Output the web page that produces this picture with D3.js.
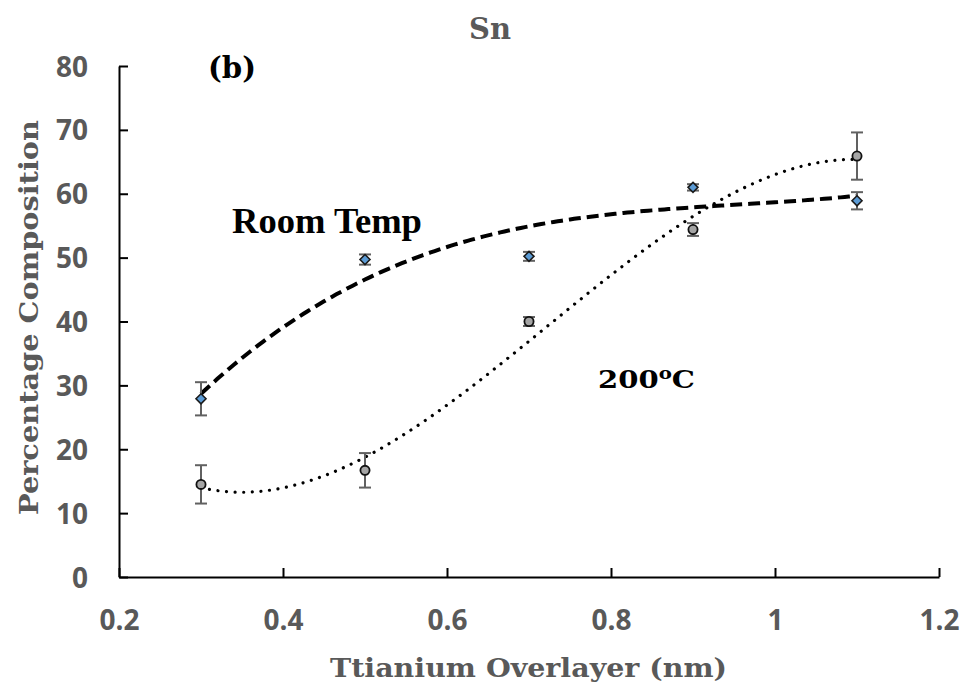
<!DOCTYPE html>
<html>
<head>
<meta charset="utf-8">
<script src="https://cdn.jsdelivr.net/npm/d3@7"></script>
<style>
  html, body { margin: 0; padding: 0; background: #fff; }
  svg { display: block; }
</style>
</head>
<body>
<svg id="chart" width="965" height="682"></svg>
<script>
// Titanium overlayer thickness (nm)
const thickness = [0.3, 0.5, 0.7, 0.9, 1.1];

// Sn percentage composition, room temperature deposition
const roomTemp = [27.9, 49.7, 50.2, 61.0, 58.9];
const roomTempErr = [2.6, 0.8, 0.7, 0.5, 1.35];

// Sn percentage composition, 200 °C deposition
const hot200 = [14.5, 16.7, 40.0, 54.4, 65.9];
const hot200Err = [3.0, 2.7, 0.7, 1.0, 3.7];

const xTicks = [0.2, 0.4, 0.6, 0.8, 1, 1.2];
const yTicks = [0, 10, 20, 30, 40, 50, 60, 70, 80];

const svg = d3.select("#chart");
const plotL = 119, plotR = 939, plotT = 66, plotB = 577;

const x = d3.scaleLinear().domain([0.2, 1.2]).range([plotL, plotR]);
const y = d3.scaleLinear().domain([0, 80]).range([plotB, plotT]);

const grey = "#595959";
const serif = "'DejaVu Serif', 'Liberation Serif', serif";
const sans = "'Open Sans', 'Noto Sans', 'Liberation Sans', sans-serif";

// Scale a text element's font size so its rendered width hits a target
function fitWidth(sel, target) {
  const node = sel.node();
  const fs = parseFloat(sel.attr("font-size"));
  const w = node.getComputedTextLength();
  if (w > 0) sel.attr("font-size", (fs * target / w).toFixed(2));
  return sel;
}

// Stretch/squeeze a text element horizontally to a given width
function fitLength(sel, target) {
  return sel.attr("textLength", target).attr("lengthAdjust", "spacingAndGlyphs");
}

// Least-squares polynomial trendline of given order
function polyFit(xs, ys, order) {
  const n = order + 1;
  const A = Array.from({length: n}, () => new Array(n + 1).fill(0));
  xs.forEach((xv, k) => {
    for (let i = 0; i < n; i++) {
      for (let j = 0; j < n; j++) A[i][j] += Math.pow(xv, i + j);
      A[i][n] += ys[k] * Math.pow(xv, i);
    }
  });
  for (let c = 0; c < n; c++) {
    let p = c;
    for (let r = c + 1; r < n; r++) if (Math.abs(A[r][c]) > Math.abs(A[p][c])) p = r;
    [A[c], A[p]] = [A[p], A[c]];
    for (let r = 0; r < n; r++) {
      if (r === c) continue;
      const f = A[r][c] / A[c][c];
      for (let k = c; k <= n; k++) A[r][k] -= f * A[c][k];
    }
  }
  const coef = A.map((row, i) => row[n] / row[i]);
  return xv => coef.reduce((s, c, i) => s + c * Math.pow(xv, i), 0);
}

// Axes (ticks point inward)
const xAxis = d3.axisBottom(x).tickValues(xTicks).tickSize(-9).tickSizeOuter(0)
  .tickFormat(d3.format("~g")).tickPadding(33);
const yAxis = d3.axisLeft(y).tickValues(yTicks).tickSize(-9).tickSizeOuter(0)
  .tickFormat(d3.format("d")).tickPadding(31);

const gx = svg.append("g").attr("transform", `translate(0,${plotB})`).call(xAxis);
const gy = svg.append("g").attr("transform", `translate(${plotL},0)`).call(yAxis);
[gx, gy].forEach(g => {
  g.select(".domain").attr("stroke", "#000").attr("stroke-width", 2);
  g.selectAll(".tick line").attr("stroke", "#000").attr("stroke-width", 2);
  g.selectAll(".tick text").attr("fill", grey).attr("font-family", sans)
    .attr("font-weight", "bold").attr("font-size", 28);
});
gx.selectAll(".tick text").attr("dy", "0.71em");
gy.selectAll(".tick text").attr("dy", "0.36em");

// Trendlines (3rd-order polynomial fits)
const fineX = d3.range(0.3, 1.1001, 0.005);
const line = d3.line().x(d => x(d[0])).y(d => y(d[1]));

const fitRT = polyFit(thickness, roomTemp, 3);
const fitHot = polyFit(thickness, hot200, 3);

svg.append("path")
  .attr("d", line(fineX.map(v => [v, fitRT(v)])))
  .attr("fill", "none").attr("stroke", "#000").attr("stroke-width", 4)
  .attr("stroke-dasharray", "12,6");

svg.append("path")
  .attr("d", line(fineX.map(v => [v, fitHot(v)])))
  .attr("fill", "none").attr("stroke", "#000").attr("stroke-width", 3.2)
  .attr("stroke-linecap", "round").attr("stroke-dasharray", "0.01,8.6");

// Error bars
function errorBars(vals, errs) {
  const g = svg.append("g").attr("stroke", "#616161").attr("stroke-width", 2);
  thickness.forEach((t, i) => {
    const cx = x(t), y1 = y(vals[i] + errs[i]), y2 = y(vals[i] - errs[i]);
    g.append("line").attr("x1", cx).attr("x2", cx).attr("y1", y1).attr("y2", y2);
    g.append("line").attr("x1", cx - 6).attr("x2", cx + 6).attr("y1", y1).attr("y2", y1);
    g.append("line").attr("x1", cx - 6).attr("x2", cx + 6).attr("y1", y2).attr("y2", y2);
  });
}
errorBars(roomTemp, roomTempErr);
errorBars(hot200, hot200Err);

// Markers
svg.append("g").selectAll("path").data(thickness).join("path")
  .attr("transform", (d, i) => `translate(${x(d)},${y(roomTemp[i])})`)
  .attr("d", "M0,-5 L5,0 L0,5 L-5,0 Z")
  .attr("fill", "#5b9bd5").attr("stroke", "#1a1a1a").attr("stroke-width", 1.6);

svg.append("g").selectAll("circle").data(thickness).join("circle")
  .attr("cx", d => x(d)).attr("cy", (d, i) => y(hot200[i])).attr("r", 4.6)
  .attr("fill", "#a5a5a5").attr("stroke", "#111").attr("stroke-width", 1.8);

// Titles and annotations
fitWidth(svg.append("text").attr("x", 490).attr("y", 39).attr("text-anchor", "middle")
  .attr("font-family", serif).attr("font-weight", "bold").attr("font-size", 26)
  .attr("fill", grey).text("Sn"), 42);

fitWidth(svg.append("text").attr("x", 232).attr("y", 78).attr("text-anchor", "middle")
  .attr("font-family", serif).attr("font-weight", "bold").attr("font-size", 26)
  .attr("fill", "#000").text("(b)"), 48);

fitLength(svg.append("text").attr("x", 330).attr("y", 677)
  .attr("font-family", serif).attr("font-weight", "bold").attr("font-size", 26.5)
  .attr("fill", grey).text("Ttianium Overlayer (nm)"), 397);

fitLength(svg.append("text").attr("transform", "translate(38,515) rotate(-90)")
  .attr("font-family", serif).attr("font-weight", "bold").attr("font-size", 26.5)
  .attr("fill", grey).text("Percentage Composition"), 395);

fitWidth(svg.append("text").attr("x", 232).attr("y", 233)
  .attr("font-family", "'Liberation Serif', serif").attr("font-weight", "bold").attr("font-size", 32)
  .attr("fill", "#000").text("Room Temp"), 190);

const deg = svg.append("text").attr("x", 598).attr("y", 388)
  .attr("font-family", serif).attr("font-weight", "bold").attr("font-size", 25)
  .attr("fill", "#000");
deg.append("tspan").text("200");
deg.append("tspan").attr("font-size", 17).attr("dy", -9).text("o");
deg.append("tspan").attr("dy", 9).text("C");
fitLength(deg, 97);
</script>
</body>
</html>
